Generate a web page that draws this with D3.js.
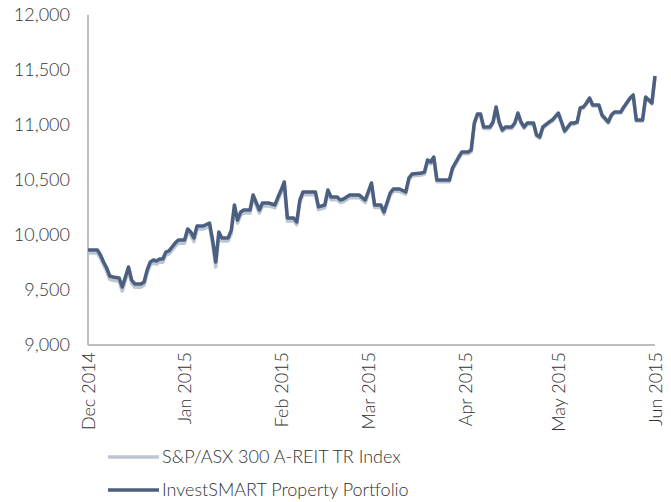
<!DOCTYPE html>
<html lang="en">
<head>
  <meta charset="utf-8">
  <script src="https://d3js.org/d3.v7.min.js"></script>
  <title>InvestSMART Property Portfolio vs A-REIT index</title>
<style>
  body { margin: 0; background: #fff; }
  .axis path, .axis line { fill: none; stroke: #bfbfbf; stroke-width: 2px; }
  .axis text { font-family: Lato, sans-serif; font-size: 18px; font-weight: 300; fill: #333; }
  .legend text { font-family: Lato, sans-serif; font-size: 18px; font-weight: 300; fill: #333; }
</style>
</head>
<body>
<svg width="671" height="502" id="chart"></svg>
<script>

// dates of the points
var dates = [
  "2014-12-01","2014-12-04","2014-12-05","2014-12-06","2014-12-07","2014-12-08","2014-12-09","2014-12-11",
  "2014-12-12","2014-12-14","2014-12-15","2014-12-16","2014-12-18","2014-12-19","2014-12-20","2014-12-21",
  "2014-12-22","2014-12-23","2014-12-24","2014-12-25","2014-12-26","2014-12-27","2014-12-29","2014-12-30",
  "2015-01-01","2015-01-02","2015-01-03","2015-01-04","2015-01-05","2015-01-07","2015-01-09","2015-01-10",
  "2015-01-11","2015-01-12","2015-01-13","2015-01-15","2015-01-16","2015-01-17","2015-01-18","2015-01-19",
  "2015-01-20","2015-01-22","2015-01-23","2015-01-25","2015-01-26","2015-01-28","2015-01-30","2015-01-31",
  "2015-02-01","2015-02-02","2015-02-03","2015-02-05","2015-02-06","2015-02-07","2015-02-08","2015-02-12",
  "2015-02-13","2015-02-15","2015-02-16","2015-02-17","2015-02-19","2015-02-20","2015-02-21","2015-02-23",
  "2015-02-26","2015-02-28","2015-03-02","2015-03-03","2015-03-05","2015-03-06","2015-03-08","2015-03-09",
  "2015-03-11","2015-03-13","2015-03-14","2015-03-15","2015-03-18","2015-03-19","2015-03-20","2015-03-21",
  "2015-03-22","2015-03-23","2015-03-27","2015-03-28","2015-03-30","2015-03-31","2015-04-02","2015-04-03",
  "2015-04-04","2015-04-05","2015-04-06","2015-04-07","2015-04-09","2015-04-10","2015-04-11","2015-04-12",
  "2015-04-13","2015-04-14","2015-04-16","2015-04-17","2015-04-18","2015-04-19","2015-04-20","2015-04-21",
  "2015-04-23","2015-04-24","2015-04-25","2015-04-26","2015-04-28","2015-04-29","2015-05-01","2015-05-02",
  "2015-05-03","2015-05-05","2015-05-06","2015-05-07","2015-05-08","2015-05-09","2015-05-10","2015-05-11",
  "2015-05-12","2015-05-14","2015-05-15","2015-05-17","2015-05-18","2015-05-19","2015-05-21","2015-05-22",
  "2015-05-24","2015-05-25","2015-05-26","2015-05-28","2015-05-29","2015-05-30","2015-05-31","2015-06-01"
];

var portfolio = [
  9864, 9864, 9818, 9755, 9700, 9627, 9618, 9609,
  9527, 9709, 9591, 9555, 9555, 9573, 9682, 9755,
  9773, 9764, 9782, 9782, 9845, 9855, 9927, 9955,
  9955, 10055, 10027, 9973, 10082, 10082, 10109, 9955,
  9755, 10027, 9973, 9973, 10045, 10273, 10136, 10209,
  10227, 10227, 10364, 10227, 10291, 10291, 10273, 10345,
  10409, 10482, 10155, 10155, 10118, 10318, 10391, 10391,
  10255, 10273, 10409, 10345, 10345, 10318, 10327, 10364,
  10364, 10318, 10473, 10273, 10273, 10209, 10382, 10418,
  10418, 10391, 10518, 10555, 10564, 10573, 10682, 10664,
  10709, 10500, 10500, 10609, 10709, 10755, 10755, 10773,
  11018, 11100, 11100, 10982, 10982, 11027, 11164, 11027,
  10955, 10982, 10982, 11018, 11109, 11027, 10982, 11018,
  11018, 10909, 10891, 10982, 11027, 11045, 11109, 11027,
  10945, 11018, 11018, 11027, 11155, 11164, 11200, 11245,
  11182, 11182, 11091, 11027, 11091, 11118, 11118, 11164,
  11245, 11273, 11045, 11045, 11255, 11227, 11200, 11445
];

var areitIndex = [
  9836, 9836, 9790, 9727, 9670, 9597, 9588, 9580,
  9490, 9680, 9562, 9525, 9526, 9545, 9653, 9727,
  9745, 9735, 9754, 9753, 9817, 9826, 9898, 9927,
  9926, 10027, 9998, 9940, 10055, 10054, 10082, 9915,
  9710, 9996, 9945, 9946, 10016, 10246, 10108, 10182,
  10200, 10199, 10337, 10200, 10264, 10265, 10247, 10318,
  10383, 10455, 10128, 10129, 10093, 10292, 10366, 10365,
  10230, 10248, 10384, 10320, 10321, 10294, 10302, 10340,
  10339, 10294, 10450, 10250, 10251, 10188, 10361, 10398,
  10397, 10372, 10498, 10536, 10545, 10554, 10663, 10646,
  10690, 10484, 10483, 10592, 10692, 10739, 10738, 10757,
  11002, 11085, 11084, 10968, 10967, 11013, 11149, 11013,
  10942, 10968, 10969, 11005, 11096, 11014, 10970, 11005,
  11006, 10898, 10879, 10970, 11015, 11034, 11098, 11016,
  10935, 11008, 11007, 11017, 11144, 11154, 11190, 11235,
  11172, 11173, 11081, 11018, 11081, 11109, 11108, 11155,
  11236, 11264, 11037, 11036, 11246, 11219, 11191, 11436
];

var yTicks = [9000, 9500, 10000, 10500, 11000, 11500, 12000];
var xTicks = ["2014-12-01","2015-01-01","2015-02-01","2015-03-01","2015-04-01","2015-05-01","2015-06-01"];
var seriesNames = ["S&P/ASX 300 A-REIT TR Index", "InvestSMART Property Portfolio"];
var seriesColors = ["#bcc6d1", "#4b5f80"];

var margin = {top: 15, right: 16, bottom: 157, left: 88};
var svg = d3.select("#chart");
var width = +svg.attr("width") - margin.left - margin.right;
var height = +svg.attr("height") - margin.top - margin.bottom;
var g = svg.append("g").attr("transform", "translate(" + margin.left + "," + margin.top + ")");

var parse = d3.timeParse("%Y-%m-%d");

var x = d3.scaleTime()
    .domain([parse(xTicks[0]), parse(xTicks[xTicks.length - 1])])
    .range([0, width]);

var y = d3.scaleLinear()
    .domain([9000, 12000])
    .range([height, 0]);

// axes
var yAxis = g.append("g")
    .attr("class", "axis")
    .call(d3.axisLeft(y).tickValues(yTicks).tickSize(0).tickPadding(18).tickFormat(d3.format(",")));
yAxis.select(".domain").attr("d", "M0," + height + "V0");

var xAxis = g.append("g")
    .attr("class", "axis")
    .attr("transform", "translate(0," + height + ")")
    .call(d3.axisBottom(x).tickValues(xTicks.map(parse)).tickSize(0).tickFormat(d3.timeFormat("%b %Y")));
xAxis.select(".domain").attr("d", "M0,0H" + width);
xAxis.selectAll("text")
    .attr("transform", "rotate(-90)")
    .attr("text-anchor", "end")
    .attr("x", -7)
    .attr("y", 0)
    .attr("dy", "0.35em");

// lines
var series = [areitIndex, portfolio];
var line = d3.line()
    .x(function(d, i) { return x(parse(dates[i])); })
    .y(function(d) { return y(d); });

g.selectAll(".series")
  .data(series)
  .enter().append("path")
    .attr("class", "series")
    .attr("fill", "none")
    .attr("stroke", function(d, i) { return seriesColors[i]; })
    .attr("stroke-width", 3.5)
    .attr("stroke-linejoin", "round")
    .attr("d", line);

// legend
var legend = svg.append("g").attr("class", "legend")
  .selectAll("g")
  .data(seriesNames)
  .enter().append("g")
    .attr("transform", function(d, i) { return "translate(108," + (457 + i * 33) + ")"; });

legend.append("line")
    .attr("x1", 0).attr("x2", 51)
    .attr("stroke", function(d, i) { return seriesColors[i]; })
    .attr("stroke-width", 3.5);

legend.append("text")
    .attr("x", 54)
    .attr("dy", "0.35em")
    .text(function(d) { return d; });

</script>
</body>
</html>
